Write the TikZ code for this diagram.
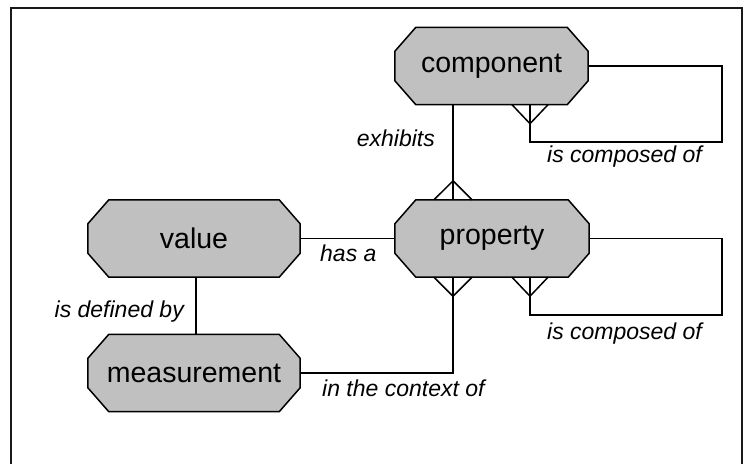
\documentclass[tikz,border=0pt]{standalone}
\usepackage{fontspec}
\setmainfont{Liberation Sans}
\usetikzlibrary{calc,backgrounds}
\definecolor{entityfill}{RGB}{192,192,192}
\tikzset{
  entity/.style={rectangle, inner sep=0pt, minimum height=77pt,
    font=\fontsize{28.5}{32}\selectfont},
  octagon/.style={draw=black, line width=1.5pt, fill=entityfill, line join=miter},
  rel/.style={draw=black, line width=1.5pt},
  relabel/.style={inner sep=0pt, font=\fontsize{23}{26}\selectfont\itshape},
}
% octagonal outline round a named entity node
\newcommand{\entityoutline}[1]{%
  \path[octagon]
    ($(#1.north west)+(21,0)$) -- ($(#1.north east)+(-21,0)$)
    -- ($(#1.north east)+(0,24)$) -- ($(#1.south east)+(0,-24)$)
    -- ($(#1.south east)+(-21,0)$) -- ($(#1.south west)+(21,0)$)
    -- ($(#1.south west)+(0,-24)$) -- ($(#1.north west)+(0,24)$) -- cycle;}
\begin{document}
\begin{tikzpicture}[x=1pt,y=-1pt]
\useasboundingbox (0,0) rectangle (746,463);
% outer frame, open at the page's lower edge
\draw[line width=2pt, draw=black!90] (11,475) -- (11,8) -- (742,8) -- (742,475);

% entities
\node[entity, minimum width=193pt] (component) at (491.5,66) {component};
\node[entity, minimum width=194pt] (property) at (492,238.5) {property};
\node[entity, minimum width=212pt] (value) at (194,238.5) {value};
\node[entity, minimum width=212pt] (measurement) at (194,373) {measurement};
\begin{scope}[on background layer]
  \entityoutline{component}
  \entityoutline{property}
  \entityoutline{value}
  \entityoutline{measurement}
\end{scope}

% component exhibits property (many)
\draw[rel] ($(component.south)+(-38.5,0)$) -- ($(property.north)+(-39,0)$);
\draw[rel] ($(property.north)+(-58,0)$) -- ($(property.north)+(-39,-19)$) -- ($(property.north)+(-20,0)$);

% component is composed of component
\draw[rel] (component.east) -| (722,142) -| ($(component.south)+(38.5,0)$);
\draw[rel] ($(component.south)+(20.5,0)$) -- ($(component.south)+(38.5,19)$) -- ($(component.south)+(56.5,0)$);

% property is composed of property
\draw[rel] (property.east) -| (722,315) -| ($(property.south)+(38,0)$);
\draw[rel] ($(property.south)+(20,0)$) -- ($(property.south)+(38,19)$) -- ($(property.south)+(56,0)$);

% value has a property
\draw[rel] (value.east) -- (property.west);

% value is defined by measurement
\draw[rel] ($(value.south)+(2,0)$) -- ($(measurement.north)+(2,0)$);

% measurement in the context of property (many)
\draw[rel] (measurement.east) -| ($(property.south)+(-39,0)$);
\draw[rel] ($(property.south)+(-58,0)$) -- ($(property.south)+(-39,19)$) -- ($(property.south)+(-20,0)$);

% relationship labels
\node[relabel, anchor=east] (lexhibits) at (435,138) {exhibits};
\node[relabel, anchor=west] (lcomp1) at (547,157) {is composed of};
\node[relabel, anchor=west] (lcomp2) at (547,334) {is composed of};
\node[relabel, anchor=west] (lhas) at (320,253) {has a};
\node[relabel, anchor=east] (ldef) at (184,312) {is defined by};
\node[relabel, anchor=west] (lctx) at (322,388) {in the context of};
\end{tikzpicture}
\end{document}
